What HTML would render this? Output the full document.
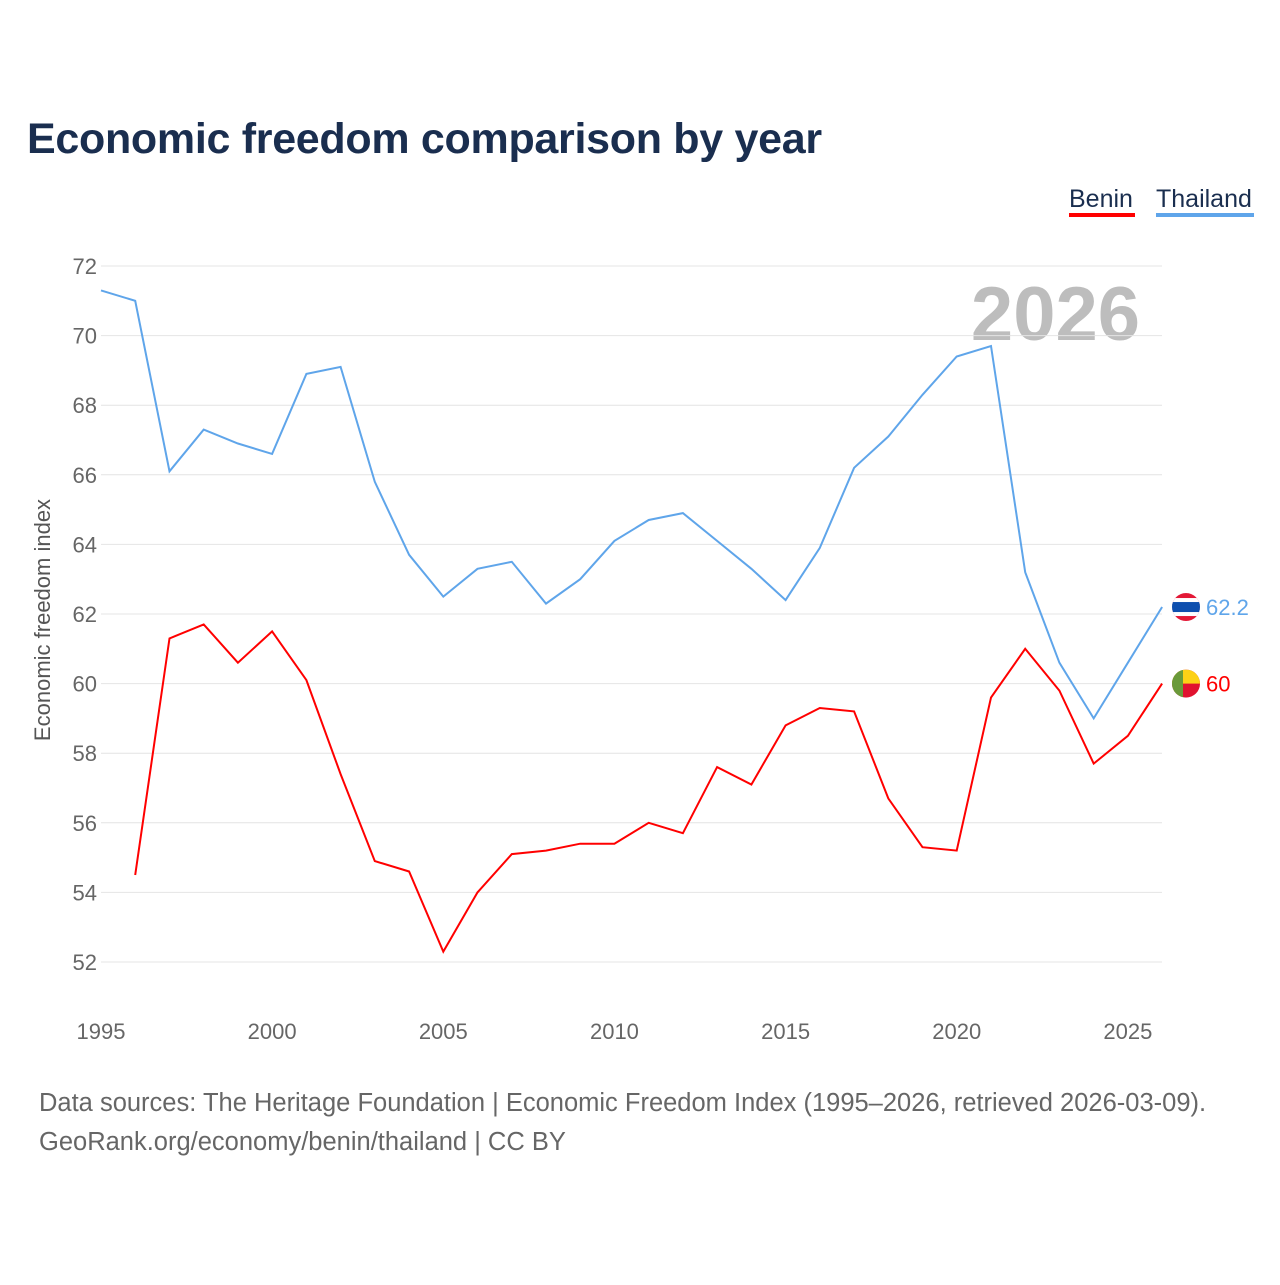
<!DOCTYPE html>
<html><head><meta charset="utf-8"><style>
body{margin:0;background:#fff;width:1280px;height:1280px;overflow:hidden;font-family:"Liberation Sans",sans-serif}
</style></head><body>
<svg id="chart" width="1280" height="1280" xmlns="http://www.w3.org/2000/svg">
<text x="27" y="153" font-size="43" font-weight="bold" fill="#1a2e4f" letter-spacing="-0.3">Economic freedom comparison by year</text>
<g>
<text x="1069" y="207" font-size="25" fill="#1a2e4f">Benin</text>
<rect x="1069" y="213" width="66" height="4" fill="#f00"/>
<text x="1156" y="207" font-size="25" fill="#1a2e4f">Thailand</text>
<rect x="1156" y="213" width="98" height="4" fill="#5fa5ea"/>
</g>
<text x="1140" y="340" font-size="76" font-weight="bold" fill="#bdbdbd" text-anchor="end">2026</text>
<text transform="translate(50,620) rotate(-90)" font-size="22" fill="#555" text-anchor="middle">Economic freedom index</text>
<g id="grid"></g><g id="lines"></g>
<g font-size="25.5" fill="#666">
<text x="39" y="1111">Data sources: The Heritage Foundation | Economic Freedom Index (1995–2026, retrieved 2026-03-09).</text>
<text x="39" y="1150">GeoRank.org/economy/benin/thailand | CC BY</text>
</g>
</svg>
<script>
const years=[];for(let y=1995;y<=2026;y++)years.push(y);
const thailand=[71.3,71.0,66.1,67.3,66.9,66.6,68.9,69.1,65.8,63.7,62.5,63.3,63.5,62.3,63.0,64.1,64.7,64.9,64.1,63.3,62.4,63.9,66.2,67.1,68.3,69.4,69.7,63.2,60.6,59.0,60.6,62.2];
const benin=[null,54.5,61.3,61.7,60.6,61.5,60.1,57.4,54.9,54.6,52.3,54.0,55.1,55.2,55.4,55.4,56.0,55.7,57.6,57.1,58.8,59.3,59.2,56.7,55.3,55.2,59.6,61.0,59.8,57.7,58.5,60.0];
const yTicks=[52,54,56,58,60,62,64,66,68,70,72];
const xTicks=[1995,2000,2005,2010,2015,2020,2025];
const X=y=>101+(y-1995)*34.23;
const Y=v=>266+(72-v)*34.8;
const NS="http://www.w3.org/2000/svg";
const grid=document.getElementById('grid'),lines=document.getElementById('lines');
function mk(tag,attrs,parent){const e=document.createElementNS(NS,tag);for(const k in attrs)e.setAttribute(k,attrs[k]);parent.appendChild(e);return e;}
yTicks.forEach(v=>{
 const l=mk('line',{x1:101,x2:1162,y1:Y(v),y2:Y(v),stroke:'#e4e4e4','stroke-width':1},grid);
 
 
 const t=mk('text',{x:97,y:Y(v)+8,'font-size':22,fill:'#666','text-anchor':'end'},grid);
 t.textContent=v;
 
 
});
xTicks.forEach(v=>{
 const t=mk('text',{x:X(v),y:1039,'font-size':22,fill:'#666','text-anchor':'middle'},grid);
 t.textContent=v;
 
 
});
function series(vals,color,name){
 let d='';vals.forEach((v,i)=>{if(v==null)return;d+=(d?'L':'M')+X(years[i]).toFixed(1)+','+Y(v).toFixed(1);});
 const p=mk('path',{d:d,fill:'none',stroke:color,'stroke-width':2},lines);
 
 
 const last=vals[vals.length-1];
 const t=mk('text',{x:1206,y:Y(last)+8,'font-size':22,fill:color},lines);
 t.textContent=last;
 
 
 return Y(last);
}
const ty=series(thailand,'#5fa5ea','thailand');
const by=series(benin,'#f00','benin');
const tf=mk('g',{},lines);


mk('clipPath',{id:'ct'},tf).appendChild(document.createElementNS(NS,'circle'));
const cc=tf.querySelector('#ct circle');cc.setAttribute('cx',1186);cc.setAttribute('cy',ty);cc.setAttribute('r',14);
const tg=mk('g',{'clip-path':'url(#ct)'},tf);
mk('rect',{x:1172,y:ty-14,width:28,height:28,fill:'#e31836'},tg);
mk('rect',{x:1172,y:ty-9,width:28,height:18,fill:'#fff'},tg);
mk('rect',{x:1172,y:ty-5,width:28,height:10,fill:'#0f4fae'},tg);
const bf=mk('g',{},lines);


mk('clipPath',{id:'cb'},bf).appendChild(document.createElementNS(NS,'circle'));
const cb=bf.querySelector('#cb circle');cb.setAttribute('cx',1186);cb.setAttribute('cy',by);cb.setAttribute('r',14);
const bg=mk('g',{'clip-path':'url(#cb)'},bf);
mk('rect',{x:1172,y:by-14,width:28,height:28,fill:'#e0122f'},bg);
mk('rect',{x:1172,y:by-14,width:28,height:14,fill:'#fcd116'},bg);
mk('rect',{x:1172,y:by-14,width:11,height:28,fill:'#6a9a3a'},bg);
</script>
</body></html>
